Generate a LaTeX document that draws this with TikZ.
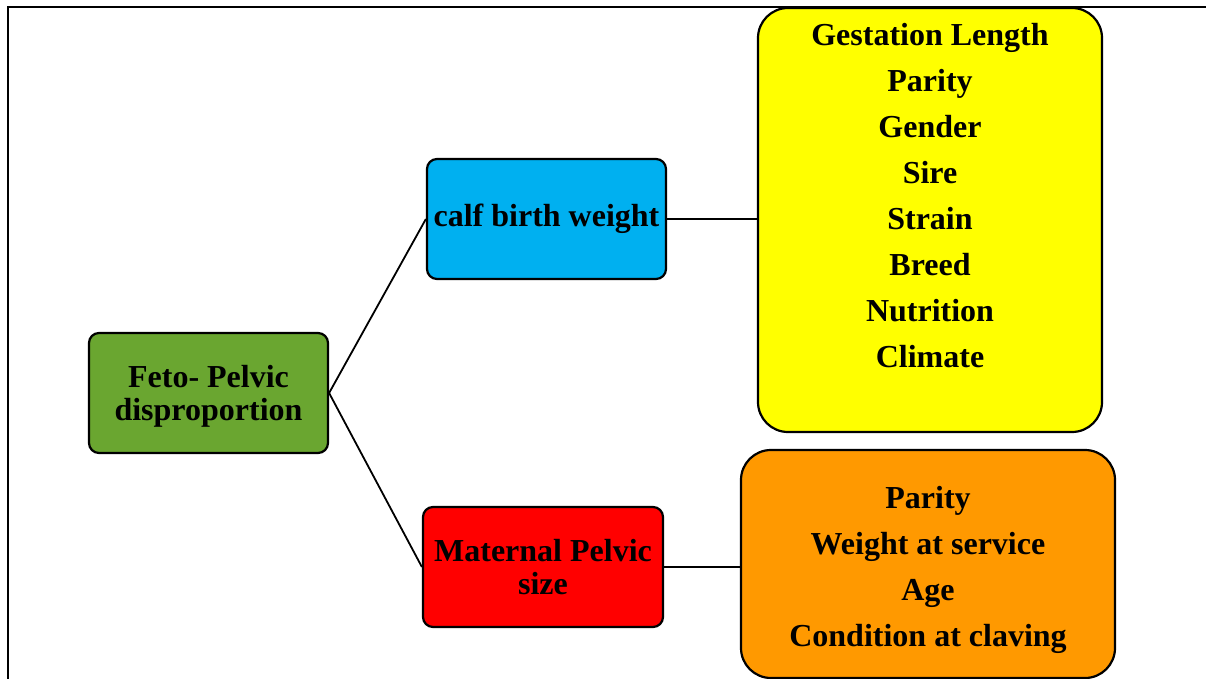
\documentclass[tikz,border=0pt]{standalone}
\usepackage{fontspec}
\setmainfont{Liberation Serif}
\definecolor{fgreen}{RGB}{106,166,48}
\definecolor{fblue}{RGB}{0,176,240}
\definecolor{fred}{RGB}{255,0,0}
\definecolor{fyellow}{RGB}{255,255,0}
\definecolor{forange}{RGB}{255,153,0}
\begin{document}
\begin{tikzpicture}[x=1pt,y=-1pt,
  box/.style={draw=black,line width=2.2pt,rounded corners=10pt,inner sep=0pt,
    minimum width=239pt,minimum height=120pt,align=center,
    font=\fontsize{32}{33}\selectfont\bfseries},
  bigbox/.style={draw=black,line width=2.2pt,rounded corners=30pt,inner sep=0pt},
  two/.style={align=center,inner sep=0pt,font=\fontsize{32}{33}\selectfont\bfseries},
  list/.style={align=center,inner sep=0pt,font=\fontsize{32}{46}\selectfont\bfseries},
  link/.style={draw=black,line width=1.8pt}]
\useasboundingbox (0,0) rectangle (1206,679);
% frame
\coordinate (fbl) at (8,679);
\coordinate (ftl) at (8,7);
\coordinate (ftr) at (1206,7);
\draw[line width=2.5pt] (fbl) -- (ftl) -- (ftr);
% boxes
\node[box,fill=fgreen] (fpd) at (208.5,393) {};
\node[two] (fpdtxt) at (208.5,396) {Feto- Pelvic\\disproportion};
\node[box,fill=fblue] (cbw) at (546.5,219) {calf birth weight};
\node[box,fill=fred,minimum width=240pt] (mps) at (543,567) {Maternal Pelvic\\size};
\node[bigbox,fill=fyellow,minimum width=344pt,minimum height=424pt] (yel) at (930,220) {};
\node[list] (yeltxt) at (930,196) {Gestation Length\\Parity\\Gender\\Sire\\Strain\\Breed\\Nutrition\\Climate};
\node[bigbox,fill=forange,minimum width=374pt,minimum height=228pt] (ora) at (928,564) {};
\node[list] (oratxt) at (928,570) {Parity\\Weight at service\\Age\\Condition at claving};
% connectors
\draw[link] (fpd.east) -- (cbw.west);
\draw[link] (fpd.east) -- (mps.west);
\draw[link] (cbw.east) -- (yel.west |- cbw.east);
\draw[link] (mps.east) -- (ora.west |- mps.east);
\end{tikzpicture}
\end{document}
